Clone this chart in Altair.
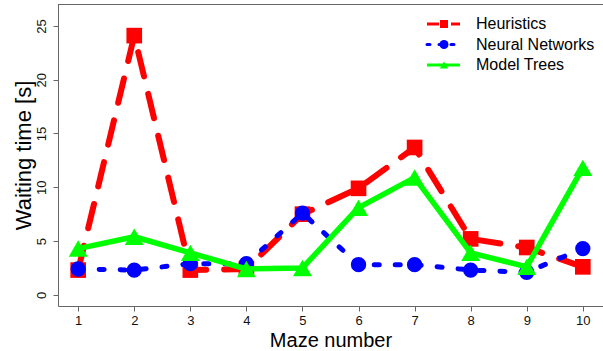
import altair as alt
import pandas as pd

# ---------------- data ----------------
maze = [1, 2, 3, 4, 5, 6, 7, 8, 9, 10]
heuristics = [2.3, 24.1, 2.3, 2.4, 7.5, 9.9, 13.7, 5.2, 4.4, 2.6]
neural_networks = [2.4, 2.3, 2.9, 2.9, 7.6, 2.8, 2.8, 2.3, 2.1, 4.3]
model_trees = [4.3, 5.4, 3.9, 2.4, 2.5, 8.1, 10.9, 3.9, 2.6, 11.8]
series_names = ["Heuristics", "Neural Networks", "Model Trees"]
y_ticks = [0, 5, 10, 15, 20, 25]
x_ticks = maze

# ---------------- styles ----------------
colors = ["#FF0000", "#0000FF", "#00FF00"]
shapes = ["square", "circle", "triangle-up"]
sizes = [245, 235, 360]
line_widths = [6, 5, 5.5]
dashes = [[25, 18], [5, 16], None]
legend_dashes = [[12, 12], [3, 9], None]
legend_sizes = [64, 81, 70]

FONT = "Liberation Sans"
W, H = 545, 302

df = pd.DataFrame({
    "maze": maze * 3,
    "value": heuristics + neural_networks + model_trees,
    "series": sum([[s] * len(maze) for s in series_names], []),
})

x_enc = alt.X(
    "maze:Q",
    scale=alt.Scale(domain=[0.64, 10.36], nice=False, zero=False),
    axis=alt.Axis(
        values=x_ticks, title="Maze number", grid=False, tickSize=5,
        labelPadding=3, labelFontSize=13, labelFont=FONT, labelColor="#111",
        labelFlush=False, labelOverlap=False,
        titleFont=FONT, titleFontSize=20, titleFontWeight="normal",
        titleBaseline="alphabetic", titleY=40, titleColor="#000",
        domainColor="#666", tickColor="#666",
    ),
)
y_enc = alt.Y(
    "value:Q",
    scale=alt.Scale(domain=[-1.04, 27.04], nice=False, zero=False),
    axis=alt.Axis(
        values=y_ticks, title="Waiting time [s]", grid=False, tickSize=5,
        labelAngle=270, labelAlign="center", labelBaseline="bottom",
        labelPadding=5, labelFontSize=13, labelFont=FONT, labelColor="#111",
        labelFlush=False, labelOverlap=False,
        titleFont=FONT, titleFontSize=22, titleFontWeight="normal",
        titleAngle=270, titleAlign="center", titleBaseline="alphabetic",
        titleX=-28, titleY=H / 2, titleColor="#000",
        domainColor="#666", tickColor="#666",
    ),
)

layers = []
for i, name in enumerate(series_names):
    sub = alt.Chart(df).transform_filter(alt.datum.series == name)
    line_kwargs = dict(color=colors[i], strokeWidth=line_widths[i],
                       strokeCap="round", strokeJoin="round")
    if dashes[i]:
        line_kwargs["strokeDash"] = dashes[i]
    layers.append(sub.mark_line(**line_kwargs).encode(x=x_enc, y=y_enc))
    layers.append(sub.mark_point(shape=shapes[i], filled=True, size=sizes[i],
                                 color=colors[i], opacity=1)
                  .encode(x=x_enc, y=y_enc))

# top frame line
frame_df = pd.DataFrame({"k": [0]})
layers.append(alt.Chart(frame_df).mark_rule(color="#666", strokeWidth=1).encode(
    x=alt.value(0), x2=alt.value(W), y=alt.value(0.5)))

# manual legend (layout positions only)
for i, name in enumerate(series_names):
    ly = 20 + 20.5 * i
    ldf = pd.DataFrame({"name": [name]})
    base = alt.Chart(ldf)
    rule_kwargs = dict(color=colors[i], strokeWidth=3, strokeCap="butt")
    if legend_dashes[i]:
        rule_kwargs["strokeDash"] = legend_dashes[i]
        if i == 1:
            rule_kwargs["strokeCap"] = "round"
    layers.append(base.mark_rule(**rule_kwargs).encode(
        x=alt.value(369), x2=alt.value(402), y=alt.value(ly)))
    layers.append(base.mark_point(shape=shapes[i], filled=True,
                                  size=legend_sizes[i], color=colors[i],
                                  opacity=1).encode(
        x=alt.value(386), y=alt.value(ly)))
    layers.append(base.mark_text(align="left", baseline="middle", fontSize=16,
                                 font=FONT, color="#000").encode(
        x=alt.value(418), y=alt.value(ly), text="name:N"))

chart = alt.layer(*layers).properties(
    width=W, height=H,
    padding={"left": 58, "top": 4, "right": 0, "bottom": 45},
    autosize=alt.AutoSizeParams(type="none"),
    background="white",
).configure_view(stroke=None)

chart.save("out.html", embed_options={"renderer": "svg", "actions": False})
